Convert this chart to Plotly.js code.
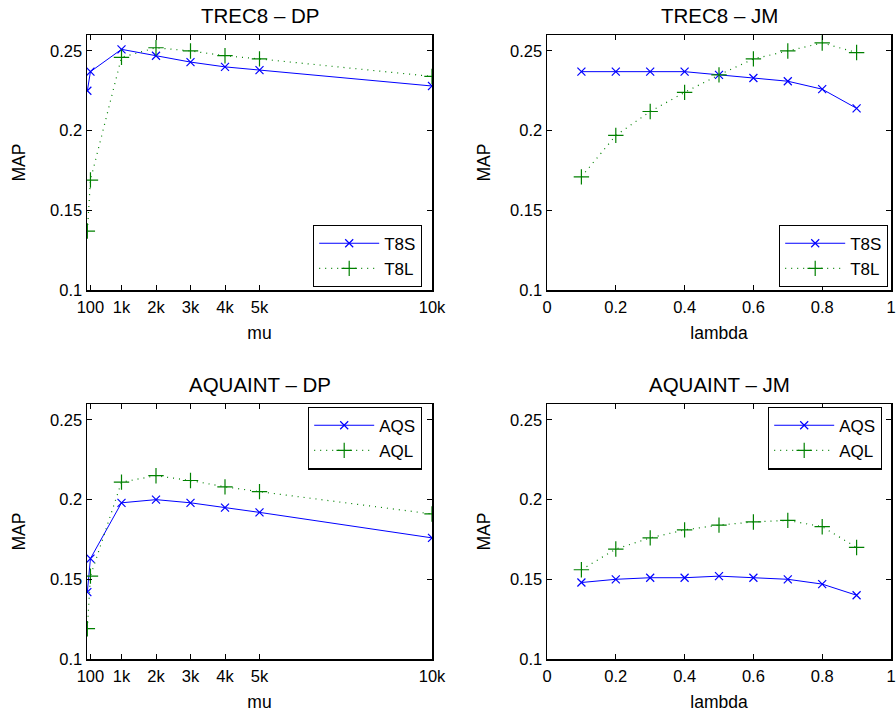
<!DOCTYPE html>
<html>
<head>
<meta charset="utf-8">
<script src="https://cdn.plot.ly/plotly-3.0.1.min.js"></script>
<style>
  html, body { margin: 0; padding: 0; background: #fff; }
  #chart { width: 896px; height: 714px; }
</style>
</head>
<body>
<div id="chart"></div>
<script>
// Smoothing parameter values
const muVals = [10, 100, 1000, 2000, 3000, 4000, 5000, 10000];
const lambdaVals = [0.1, 0.2, 0.3, 0.4, 0.5, 0.6, 0.7, 0.8, 0.9];

// MAP, TREC8 collection
const t8sDP = [0.225, 0.237, 0.251, 0.247, 0.243, 0.240, 0.238, 0.228];
const t8lDP = [0.137, 0.169, 0.246, 0.252, 0.250, 0.247, 0.245, 0.234];
const t8sJM = [0.237, 0.237, 0.237, 0.237, 0.235, 0.233, 0.231, 0.226, 0.214];
const t8lJM = [0.171, 0.197, 0.212, 0.224, 0.235, 0.245, 0.250, 0.255, 0.249];

// MAP, AQUAINT collection
const aqsDP = [0.142, 0.163, 0.198, 0.200, 0.198, 0.195, 0.192, 0.176];
const aqlDP = [0.119, 0.152, 0.211, 0.215, 0.212, 0.208, 0.205, 0.191];
const aqsJM = [0.148, 0.150, 0.151, 0.151, 0.152, 0.151, 0.150, 0.147, 0.140];
const aqlJM = [0.156, 0.169, 0.176, 0.181, 0.184, 0.186, 0.187, 0.183, 0.170];

// Tick labels
const muTickVals = [100, 1000, 2000, 3000, 4000, 5000, 10000];
const muTickText = ['100', '1k', '2k', '3k', '4k', '5k', '10k'];
const lambdaTickVals = [0, 0.2, 0.4, 0.6, 0.8, 1];
const lambdaTickText = ['0', '0.2', '0.4', '0.6', '0.8', '1'];
const mapTickVals = [0.1, 0.15, 0.2, 0.25];
const mapTickText = ['0.1', '0.15', '0.2', '0.25'];

const W = 896, H = 714;
const FONT = 'Liberation Sans, Arial, Helvetica, sans-serif';
const BLUE = '#0000ff';
const GREEN = '#008000';

function solid(x, y, name, xa, ya, leg) {
  return {
    x: x, y: y, name: name, type: 'scatter', mode: 'lines+markers',
    xaxis: xa, yaxis: ya, legend: leg,
    line: { color: BLUE, width: 1 },
    marker: { symbol: 'x-thin-open', size: 8, color: BLUE, line: { color: BLUE, width: 1.2 } }
  };
}
function dotted(x, y, name, xa, ya, leg) {
  return {
    x: x, y: y, name: name, type: 'scatter', mode: 'lines+markers',
    xaxis: xa, yaxis: ya, legend: leg,
    line: { color: GREEN, width: 1.2, dash: '1px,5px' },
    marker: { symbol: 'cross-thin-open', size: 11, color: GREEN, line: { color: GREEN, width: 1.2 } }
  };
}

const traces = [
  solid(muVals, t8sDP, 'T8S', 'x', 'y', 'legend'),
  dotted(muVals, t8lDP, 'T8L', 'x', 'y', 'legend'),
  solid(lambdaVals, t8sJM, 'T8S', 'x2', 'y2', 'legend2'),
  dotted(lambdaVals, t8lJM, 'T8L', 'x2', 'y2', 'legend2'),
  solid(muVals, aqsDP, 'AQS', 'x3', 'y3', 'legend3'),
  dotted(muVals, aqlDP, 'AQL', 'x3', 'y3', 'legend3'),
  solid(lambdaVals, aqsJM, 'AQS', 'x4', 'y4', 'legend4'),
  dotted(lambdaVals, aqlJM, 'AQL', 'x4', 'y4', 'legend4')
];

// pixel boxes of the four panels: [left, right, top, bottom]
const boxes = [
  [87, 432, 35, 290],
  [547, 891, 35, 290],
  [87, 432, 404, 659],
  [547, 891, 404, 659]
];
function xd(b) { return [b[0] / W, b[1] / W]; }
function yd(b) { return [1 - b[3] / H, 1 - b[2] / H]; }

const axisCommon = {
  showline: true, linecolor: '#000', linewidth: 1.5, mirror: 'ticks',
  ticks: 'inside', ticklen: 5, tickwidth: 1, tickcolor: '#000',
  showgrid: false, zeroline: false,
  tickfont: { family: FONT, size: 16.5, color: '#000' }
};

function xAxis(b, isMu, anchor) {
  return Object.assign({}, axisCommon, {
    domain: xd(b), anchor: anchor,
    range: isMu ? [0, 10000] : [0, 1],
    tickmode: 'array',
    tickvals: isMu ? muTickVals : lambdaTickVals,
    ticktext: isMu ? muTickText : lambdaTickText,
    ticklabelstandoff: 2,
    title: { text: isMu ? 'mu' : 'lambda', font: { family: FONT, size: 17.5, color: '#000' }, standoff: 11 }
  });
}
function yAxis(b, anchor, standoff) {
  return Object.assign({}, axisCommon, {
    domain: yd(b), anchor: anchor,
    range: [0.1, 0.26],
    tickmode: 'array', tickvals: mapTickVals, ticktext: mapTickText,
    title: { text: 'MAP', font: { family: FONT, size: 17.5, color: '#000' }, standoff: standoff }
  });
}

function legendAt(right, midY) {
  return {
    x: right / W, y: 1 - midY / H, xanchor: 'right', yanchor: 'middle',
    xref: 'paper', yref: 'paper',
    bgcolor: '#fff', bordercolor: '#000', borderwidth: 1.2,
    font: { family: FONT, size: 17, color: '#000' },
    itemwidth: 60, tracegroupgap: 0
  };
}

const titles = ['TREC8 \u2013 DP', 'TREC8 \u2013 JM', 'AQUAINT \u2013 DP', 'AQUAINT \u2013 JM'];
const annotations = titles.map((t, i) => {
  const b = boxes[i];
  return {
    text: t, xref: 'paper', yref: 'paper',
    x: (b[0] + b[1]) / 2 / W, y: 1 - (b[2] - 6) / H,
    xanchor: 'center', yanchor: 'bottom', showarrow: false,
    font: { family: FONT, size: 20.5, color: '#000' }
  };
});

const layout = {
  width: W, height: H,
  margin: { l: 0, r: 0, t: 0, b: 0 },
  paper_bgcolor: '#fff', plot_bgcolor: '#fff',
  font: { family: FONT, color: '#000' },
  xaxis: xAxis(boxes[0], true, 'y'),
  yaxis: yAxis(boxes[0], 'x', 20),
  xaxis2: xAxis(boxes[1], false, 'y2'),
  yaxis2: yAxis(boxes[1], 'x2', 15),
  xaxis3: xAxis(boxes[2], true, 'y3'),
  yaxis3: yAxis(boxes[2], 'x3', 20),
  xaxis4: xAxis(boxes[3], false, 'y4'),
  yaxis4: yAxis(boxes[3], 'x4', 15),
  legend: legendAt(422, 256),
  legend2: legendAt(888, 256),
  legend3: legendAt(422, 438),
  legend4: legendAt(882, 438),
  annotations: annotations,
  showlegend: true
};

Plotly.newPlot('chart', traces, layout, { staticPlot: true, displayModeBar: false });
</script>
</body>
</html>
